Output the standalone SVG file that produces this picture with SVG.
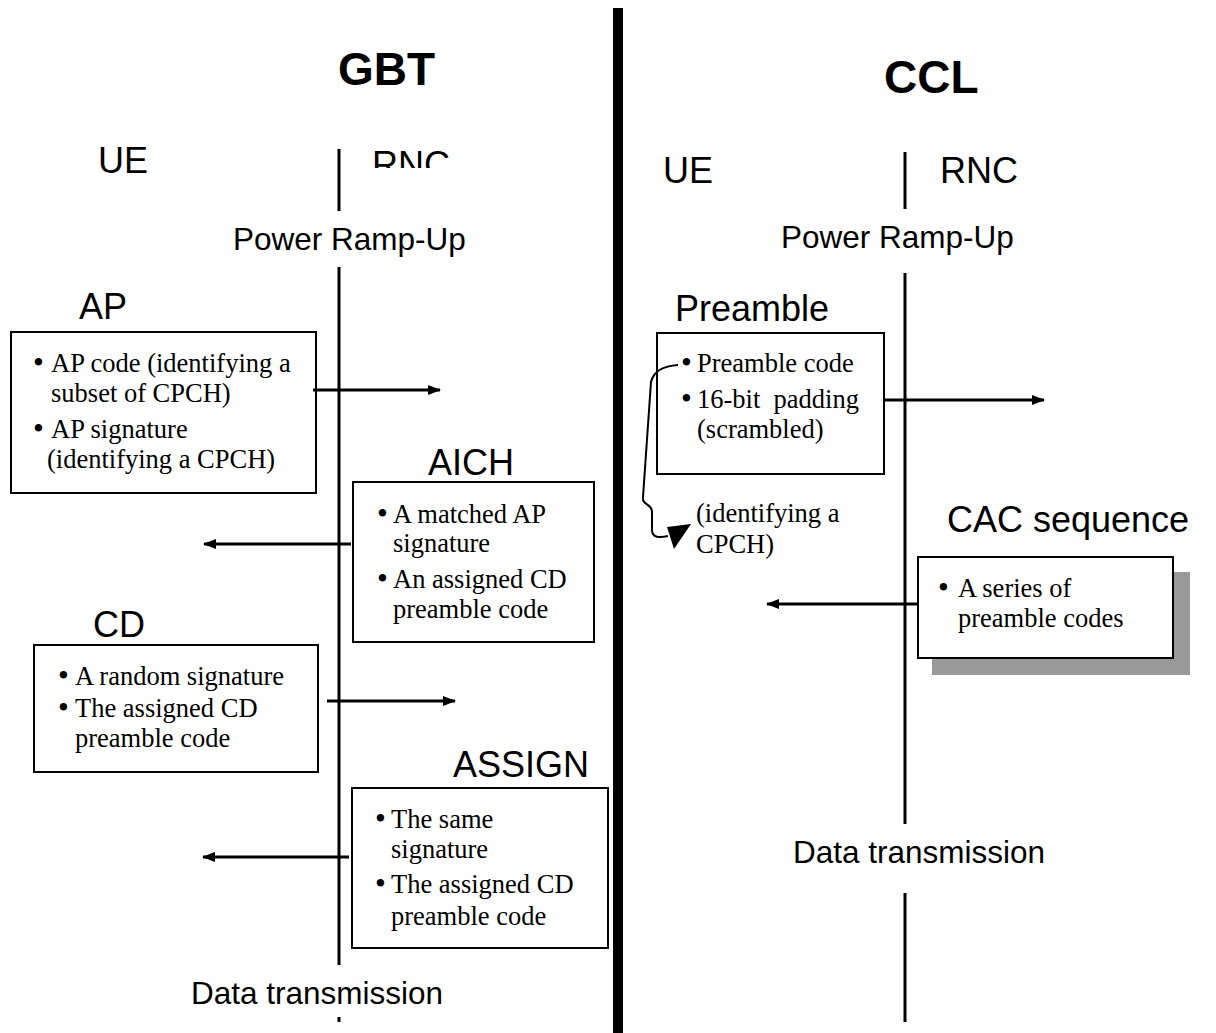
<svg xmlns="http://www.w3.org/2000/svg" width="1216" height="1033" viewBox="0 0 1216 1033">
<style>
.title{font-family:"Liberation Sans",Arial,sans-serif;font-weight:bold;font-size:46px;fill:#000}
.lbl{font-family:"Liberation Sans",Arial,sans-serif;font-size:36px;fill:#000}
.mid{font-family:"Liberation Sans",Arial,sans-serif;font-size:31.5px;fill:#000}
.b{font-family:"Liberation Serif","Times New Roman",serif;font-size:26.5px;fill:#000}
.dot{font-family:"Liberation Serif","Times New Roman",serif;font-size:31px;fill:#000}
.box{fill:#fff;stroke:#000;stroke-width:2}
.life{stroke:#000;stroke-width:3;fill:none}
.arr{stroke:#000;stroke-width:3;fill:none;marker-end:url(#ah)}
</style>
<defs>
<marker id="ah" markerWidth="14" markerHeight="12" refX="12" refY="6" orient="auto" markerUnits="userSpaceOnUse">
<path d="M0,1 L13,6 L0,11 Z" fill="#000"/>
</marker>
<clipPath id="rncclip"><rect x="360" y="130" width="100" height="38"/></clipPath>
</defs>
<rect width="1216" height="1033" fill="#fff"/>
<rect id="divider" x="613" y="8" width="10" height="1025" fill="#000"/>

<g id="gbt-header">
<text class="title" x="338" y="85">GBT</text>
<text class="lbl" x="98" y="173">UE</text>
<text class="lbl" x="372" y="177" clip-path="url(#rncclip)">RNC</text>
<text class="mid" x="233" y="250">Power Ramp-Up</text>
<text class="mid" x="191" y="1004">Data transmission</text>
</g>
<g id="ccl-header">
<text class="title" x="884" y="93" font-size="47">CCL</text>
<text class="lbl" x="663" y="183">UE</text>
<text class="lbl" x="940" y="183">RNC</text>
<text class="mid" x="781" y="248">Power Ramp-Up</text>
<text class="mid" x="793" y="863">Data transmission</text>
</g>

<g id="lifelines">
<line class="life" x1="339" y1="149" x2="339" y2="211"/>
<line class="life" x1="339" y1="267" x2="339" y2="965"/>
<line class="life" x1="339" y1="1017" x2="339" y2="1022"/>
<line class="life" x1="905" y1="152" x2="905" y2="209"/>
<line class="life" x1="905" y1="273" x2="905" y2="824"/>
<line class="life" x1="905" y1="893" x2="905" y2="1022"/>
</g>

<g id="node-ap">
<text class="lbl" x="79" y="319">AP</text>
<rect class="box" x="11" y="332" width="305" height="161"/>
<text class="dot" x="33" y="373">•</text>
<text class="b" x="51" y="372">AP code (identifying a</text>
<text class="b" x="51" y="402">subset of CPCH)</text>
<text class="dot" x="33" y="439">•</text>
<text class="b" x="51" y="438">AP signature</text>
<text class="b" x="47" y="468">(identifying a CPCH)</text>
</g>

<g id="node-aich">
<text class="lbl" x="428" y="475">AICH</text>
<rect class="box" x="353" y="482" width="241" height="160"/>
<text class="dot" x="377" y="524">•</text>
<text class="b" x="393" y="523">A matched AP</text>
<text class="b" x="393" y="552">signature</text>
<text class="dot" x="377" y="589">•</text>
<text class="b" x="393" y="588">An assigned CD</text>
<text class="b" x="393" y="618">preamble code</text>
</g>

<g id="node-cd">
<text class="lbl" x="93" y="637">CD</text>
<rect class="box" x="34" y="645" width="284" height="127"/>
<text class="dot" x="58" y="686">•</text>
<text class="b" x="75" y="685">A random signature</text>
<text class="dot" x="58" y="718">•</text>
<text class="b" x="75" y="717">The assigned CD</text>
<text class="b" x="75" y="747">preamble code</text>
</g>

<g id="node-assign">
<text class="lbl" x="453" y="777">ASSIGN</text>
<rect class="box" x="352" y="788" width="256" height="160"/>
<text class="dot" x="375" y="829">•</text>
<text class="b" x="391" y="828">The same</text>
<text class="b" x="391" y="858">signature</text>
<text class="dot" x="375" y="894">•</text>
<text class="b" x="391" y="893">The assigned CD</text>
<text class="b" x="391" y="925">preamble code</text>
</g>

<g id="node-preamble">
<text class="lbl" x="675" y="321">Preamble</text>
<rect class="box" x="657" y="333" width="227" height="141"/>
<text class="dot" x="681" y="373">•</text>
<text class="b" x="697" y="372">Preamble code</text>
<text class="dot" x="681" y="409">•</text>
<text class="b" x="697" y="408" style="white-space:pre" xml:space="preserve">16-bit  padding</text>
<text class="b" x="697" y="438">(scrambled)</text>
</g>

<g id="node-note">
<text class="b" x="696" y="522">(identifying a</text>
<text class="b" x="696" y="553">CPCH)</text>
</g>

<g id="node-cac">
<text class="lbl" x="947" y="532">CAC sequence</text>
<rect x="932" y="572" width="258" height="103" fill="#999"/>
<rect class="box" x="918" y="557" width="255" height="101"/>
<text class="dot" x="938" y="598">•</text>
<text class="b" x="958" y="597">A series of</text>
<text class="b" x="958" y="627">preamble codes</text>
</g>

<g id="connectors">
<line class="arr" x1="313" y1="390" x2="440" y2="390"/>
<line class="arr" x1="351" y1="544" x2="204" y2="544"/>
<line class="arr" x1="327" y1="701" x2="455" y2="701"/>
<line class="arr" x1="349" y1="857" x2="203" y2="857"/>
<line class="arr" x1="885" y1="400" x2="1044" y2="400"/>
<line class="arr" x1="917" y1="604" x2="767" y2="604"/>
<path d="M678,365 C664,366 654,370 651,382 L643,497 C642,506 652,503 652,512 L652,530 C652,538 660,538 668,536" fill="none" stroke="#000" stroke-width="2"/>
<path d="M667,527 L691,524 L674,549 Z" fill="#000"/>
</g>
</svg>
